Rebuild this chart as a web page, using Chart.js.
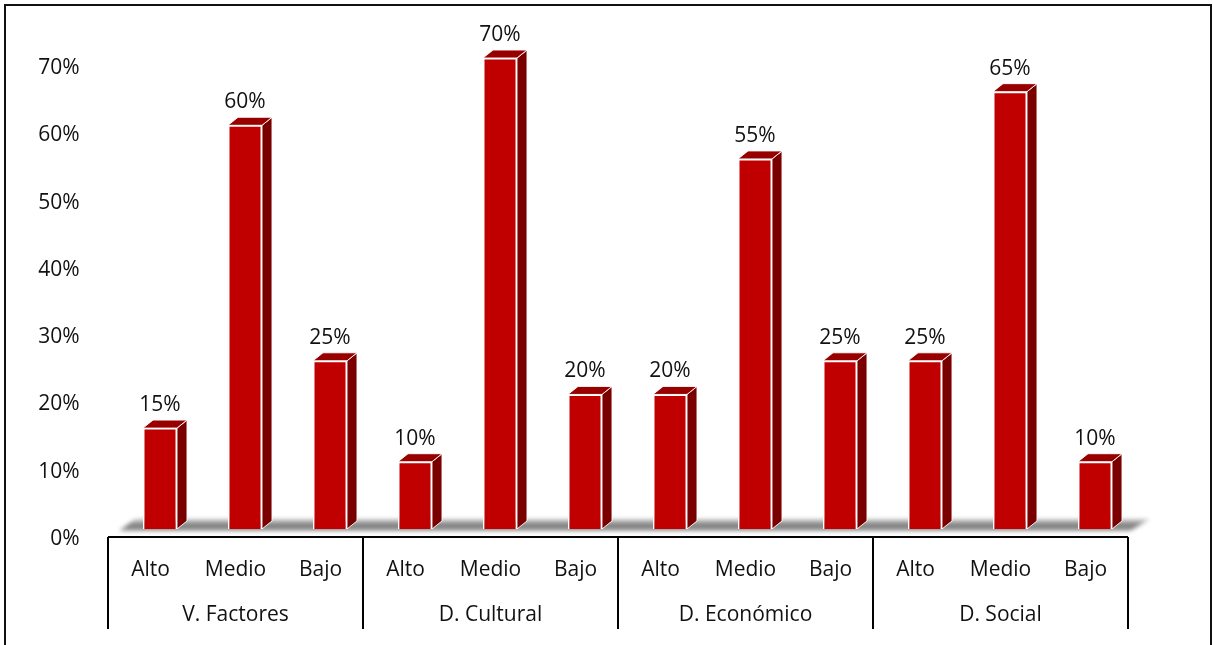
<!DOCTYPE html>
<html>
<head>
<meta charset="utf-8">
<script src="https://cdn.jsdelivr.net/npm/chart.js@4.4.0/dist/chart.umd.min.js"></script>
<style>
  html, body { margin: 0; padding: 0; background: #fff; }
  #wrap { width: 1213px; height: 645px; }
</style>
</head>
<body>
<div id="wrap"><canvas id="bars" width="1213" height="645"></canvas></div>
<script>
// data
const groups = ['V. Factores', 'D. Cultural', 'D. Económico', 'D. Social'];
const levels = ['Alto', 'Medio', 'Bajo'];
const values = [15, 60, 25, 10, 70, 20, 20, 55, 25, 25, 65, 10];
const yTicks = [0, 10, 20, 30, 40, 50, 60, 70];

const labels = [];
groups.forEach(() => levels.forEach((l) => labels.push(l)));

const FONT = '"Open Sans", "Noto Sans", sans-serif';
const FSIZE = 21;
const DX = 10;   // depth of the fake 3d, x
const DY = 8;    // depth of the fake 3d, y
const SHIFT = 9.5; // bars sit a bit right of their labels

const fake3d = {
  id: 'fake3d',
  beforeDatasetsDraw(chart) {
    const ctx = chart.ctx;
    const meta = chart.getDatasetMeta(0);
    const x = chart.scales.x;
    const base = chart.scales.y.getPixelForValue(0);

    // floor shadow
    ctx.save();
    const grad = ctx.createLinearGradient(0, base - 11, 0, base + 3);
    grad.addColorStop(0, 'rgba(225,225,225,1)');
    grad.addColorStop(0.55, 'rgba(120,120,120,1)');
    grad.addColorStop(1, 'rgba(170,170,170,1)');
    ctx.fillStyle = grad;
    ctx.filter = 'blur(2px)';
    ctx.beginPath();
    ctx.moveTo(x.left - SHIFT + 11, base + 2);
    ctx.lineTo(x.right - SHIFT + 2, base + 2);
    ctx.lineTo(x.right - SHIFT + 22, base - 10);
    ctx.lineTo(x.left - SHIFT + 27, base - 10);
    ctx.closePath();
    ctx.fill();
    ctx.restore();

    // side and top faces
    ctx.save();
    ctx.strokeStyle = 'rgba(255,255,255,0.9)';
    ctx.lineWidth = 1;
    meta.data.forEach((bar) => {
      const r = bar.x + bar.width / 2;
      const l = bar.x - bar.width / 2;
      const t = bar.y;
      ctx.fillStyle = '#7a0000';
      ctx.beginPath();
      ctx.moveTo(r, bar.base);
      ctx.lineTo(r + DX, bar.base - DY);
      ctx.lineTo(r + DX, t - DY);
      ctx.lineTo(r, t);
      ctx.closePath();
      ctx.fill();
      ctx.stroke();
      ctx.fillStyle = '#980000';
      ctx.beginPath();
      ctx.moveTo(l, t);
      ctx.lineTo(l + DX, t - DY);
      ctx.lineTo(r + DX, t - DY);
      ctx.lineTo(r, t);
      ctx.closePath();
      ctx.fill();
      ctx.stroke();
    });
    ctx.restore();
  },
  afterDraw(chart) {
    const ctx = chart.ctx;
    const x = chart.scales.x;
    const axisY = chart.scales.y.getPixelForValue(0) + DY;
    const w = (x.right - x.left) / labels.length;

    ctx.save();
    // value labels
    ctx.fillStyle = '#111';
    ctx.font = FSIZE + 'px ' + FONT;
    ctx.textAlign = 'center';
    ctx.textBaseline = 'middle';
    chart.getDatasetMeta(0).data.forEach((bar, i) => {
      ctx.fillText(values[i] + '%', bar.x, bar.y - 23);
    });

    // grouped axis
    ctx.strokeStyle = '#000';
    ctx.lineWidth = 2;
    ctx.beginPath();
    ctx.moveTo(x.left - SHIFT, axisY);
    ctx.lineTo(x.right - SHIFT, axisY);
    for (let g = 0; g <= groups.length; g++) {
      const gx = Math.round(x.left - SHIFT + g * levels.length * w);
      ctx.moveTo(gx, axisY);
      ctx.lineTo(gx, axisY + 92);
    }
    ctx.stroke();
    groups.forEach((g, i) => {
      const cx = x.left - SHIFT + (i + 0.5) * levels.length * w;
      ctx.fillText(g, cx, axisY + 78);
    });

    // outer frame
    ctx.lineWidth = 2;
    ctx.strokeStyle = '#111';
    ctx.strokeRect(5, 5, 1206, 700);
    ctx.restore();
  }
};

new Chart(document.getElementById('bars'), {
  type: 'bar',
  data: {
    labels: labels,
    datasets: [{
      data: values,
      backgroundColor: '#c00000',
      borderColor: '#ffffff',
      borderWidth: 1.5,
      barPercentage: 0.4,
      categoryPercentage: 1.0
    }]
  },
  options: {
    responsive: false,
    animation: false,
    layout: { padding: { top: 58, right: 75.5, left: 0, bottom: 0 } },
    plugins: { legend: { display: false }, tooltip: { enabled: false } },
    scales: {
      x: {
        grid: { display: false },
        border: { display: false },
        ticks: {
          color: '#111',
          font: { family: FONT, size: FSIZE },
          labelOffset: -SHIFT,
          padding: 20,
          maxRotation: 0,
          autoSkip: false
        },
        afterFit(scale) { scale.height = 116; }
      },
      y: {
        min: 0,
        max: 70,
        grid: { display: false },
        border: { display: false },
        afterBuildTicks(scale) { scale.ticks = yTicks.map((v) => ({ value: v })); },
        ticks: {
          color: '#111',
          font: { family: FONT, size: FSIZE },
          padding: 30,
          labelOffset: DY + 2,
          callback: (v) => v + '%'
        },
        afterFit(scale) { scale.width = 117.5; }
      }
    }
  },
  plugins: [fake3d]
});
</script>
</body>
</html>
